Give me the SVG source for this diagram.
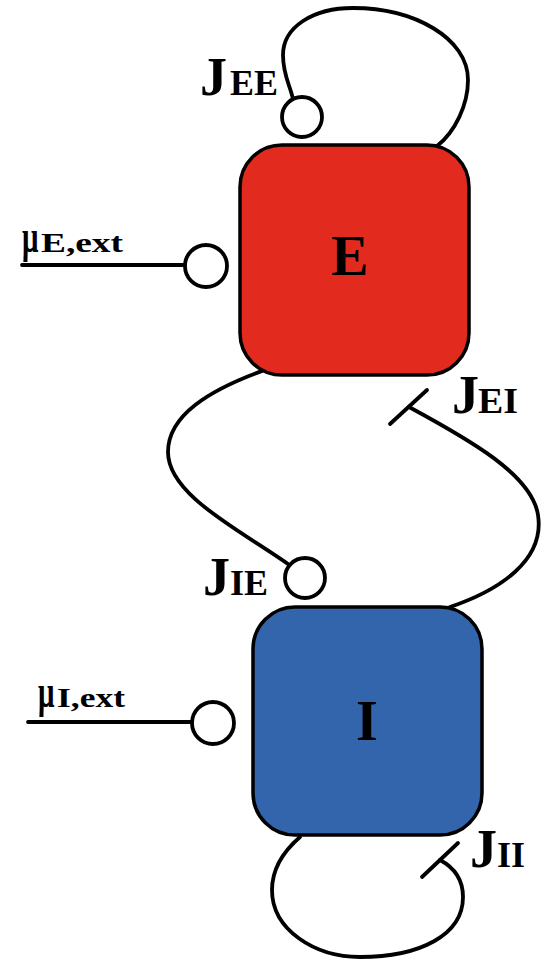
<svg xmlns="http://www.w3.org/2000/svg" width="552" height="962" viewBox="0 0 552 962">
<style>
.ln{fill:none;stroke:#000;stroke-width:3.8;stroke-linecap:round}
.dot{fill:#fff;stroke:#000;stroke-width:3.8}
.box{stroke:#000;stroke-width:3.5}
.t{font-family:"Liberation Serif","Times New Roman",serif;font-weight:bold;fill:#000}
.j{font-size:54px}
.s{font-size:36px}
.m{font-size:28px}
.mu{font-size:29px}
</style>
<rect width="552" height="962" fill="#fff"/>
<g id="connectors">
  <path class="ln" d="M 437 146 C 455 132, 468 105, 468 80 C 468 38, 414 8, 353 8 C 313 8, 283 27, 283 55 C 283 75, 290 85, 293 99"/>
  <path class="ln" d="M 22 265 L 185 265"/>
  <path class="ln" d="M 28 722 L 192 722"/>
  <path class="ln" d="M 262 371 C 210 390, 168 415, 168 452 C 168 495, 240 530, 288 564"/>
  <path class="ln" d="M 450 607 C 500 590, 545 560, 538 515 C 532 475, 470 440, 409 407"/>
  <path class="ln" d="M 390 424 L 427 390"/>
  <path class="ln" d="M 300 837 C 285 850, 272 868, 272 890 C 272 930, 315 957, 360 957 C 420 957, 463 935, 463 897 C 463 880, 455 868, 440 860"/>
  <path class="ln" d="M 422 877 L 458 843"/>
  <circle class="dot" cx="302" cy="117" r="20"/>
  <circle class="dot" cx="206" cy="266" r="21"/>
  <circle class="dot" cx="213" cy="723" r="21"/>
  <circle class="dot" cx="305" cy="578" r="20"/>
</g>
<g id="node-E">
  <rect class="box" x="240" y="145" width="229" height="230" rx="42" fill="#e22b1e"/>
  <text class="t" x="350" y="275" font-size="56" text-anchor="middle">E</text>
</g>
<g id="node-I">
  <rect class="box" x="253" y="607" width="229" height="228" rx="42" fill="#3365ad"/>
  <text class="t" x="367" y="740" font-size="56" text-anchor="middle">I</text>
</g>
<g id="labels">
  <text class="t" y="95"><tspan class="j" x="200">J</tspan><tspan class="s" x="230" textLength="48" lengthAdjust="spacingAndGlyphs">EE</tspan></text>
  <text class="t" y="595"><tspan class="j" x="203">J</tspan><tspan class="s" x="230" textLength="38" lengthAdjust="spacingAndGlyphs">IE</tspan></text>
  <text class="t" y="413"><tspan class="j" x="452">J</tspan><tspan class="s" x="478" textLength="40" lengthAdjust="spacingAndGlyphs">EI</tspan></text>
  <text class="t" y="867"><tspan class="j" x="470">J</tspan><tspan class="s" x="497" textLength="28" lengthAdjust="spacingAndGlyphs">II</tspan></text>
  <text class="t mu" transform="translate(22,252) scale(1,1.6)" x="0" y="0">μ</text>
  <text class="t m" x="41" y="252" textLength="82" lengthAdjust="spacingAndGlyphs">E,ext</text>
  <text class="t mu" transform="translate(38,707) scale(1,1.6)" x="0" y="0">μ</text>
  <text class="t m" x="57" y="707" textLength="68" lengthAdjust="spacingAndGlyphs">I,ext</text>
</g>
</svg>
